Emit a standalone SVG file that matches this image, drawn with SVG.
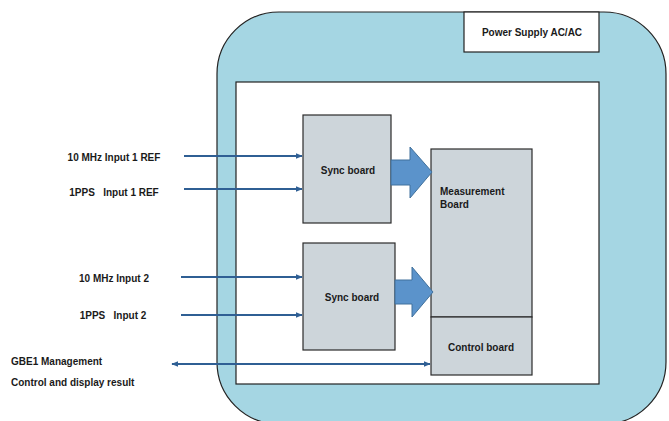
<svg xmlns="http://www.w3.org/2000/svg" width="669" height="421" viewBox="0 0 669 421">
<defs>
<style>
.lbl{font-family:"Liberation Sans",Arial,sans-serif;font-weight:bold;font-size:10px;fill:#1a1a1a;white-space:pre}
.box{fill:#cdd5da;stroke:#2b2b2b;stroke-width:1.2}
.wire{stroke:#2f5f94;stroke-width:1.8;fill:none}
.big{fill:#5b93cb;stroke:#41719c;stroke-width:1}
</style>
<marker id="ah" viewBox="0 0 10 10" refX="9" refY="5" markerWidth="4" markerHeight="4" orient="auto-start-reverse" markerUnits="strokeWidth">
<path d="M0,1 L10,5 L0,9 z" fill="#2f5f94"/>
</marker>
</defs>
<rect width="669" height="421" fill="#ffffff"/>
<g id="chassis">
<rect x="217" y="12" width="449" height="412" rx="62" ry="62" fill="#a5d6e3" stroke="#222" stroke-width="1.2"/>
</g>
<g id="power-supply">
<rect x="464" y="12" width="135" height="40" fill="#ffffff" stroke="#222" stroke-width="1.2"/>
<text class="lbl" x="532" y="36" text-anchor="middle">Power Supply AC/AC</text>
</g>
<g id="enclosure">
<rect x="236" y="82" width="363" height="302" fill="#ffffff" stroke="#222" stroke-width="1.2"/>
</g>
<g id="sync-board-1">
<rect class="box" x="303" y="115" width="88" height="108"/>
<text class="lbl" x="348" y="174" text-anchor="middle">Sync board</text>
</g>
<g id="sync-board-2">
<rect class="box" x="303" y="243" width="92" height="107"/>
<text class="lbl" x="352" y="301" text-anchor="middle">Sync board</text>
</g>
<g id="measurement-board">
<rect class="box" x="431" y="149" width="101" height="168"/>
<text class="lbl" x="440" y="195">Measurement</text>
<text class="lbl" x="440" y="208">Board</text>
</g>
<g id="control-board">
<rect class="box" x="431" y="317" width="101" height="58"/>
<text class="lbl" x="481" y="351" text-anchor="middle">Control board</text>
</g>
<g id="labels">
<text class="lbl" x="114" y="161" text-anchor="middle">10 MHz Input 1 REF</text>
<text class="lbl" x="114" y="196" text-anchor="middle">1PPS   Input 1 REF</text>
<text class="lbl" x="114" y="282" text-anchor="middle">10 MHz Input 2</text>
<text class="lbl" x="113" y="319" text-anchor="middle">1PPS   Input 2</text>
<text class="lbl" x="11" y="365">GBE1 Management</text>
<text class="lbl" x="11" y="386">Control and display result</text>
</g>
<g id="connectors">
<line class="wire" x1="184" y1="156" x2="302" y2="156" marker-end="url(#ah)"/>
<line class="wire" x1="184" y1="189" x2="302" y2="189" marker-end="url(#ah)"/>
<line class="wire" x1="181" y1="277" x2="302" y2="277" marker-end="url(#ah)"/>
<line class="wire" x1="181" y1="315" x2="302" y2="315" marker-end="url(#ah)"/>
<line class="wire" x1="172" y1="364" x2="430" y2="364" marker-start="url(#ah)" marker-end="url(#ah)"/>
<path class="big" d="M391,160 L410,160 L410,147 L432,172 L410,198 L410,185 L391,185 Z"/>
<path class="big" d="M395,280 L412,280 L412,267 L433,292 L412,317 L412,304 L395,304 Z"/>
</g>
</svg>
